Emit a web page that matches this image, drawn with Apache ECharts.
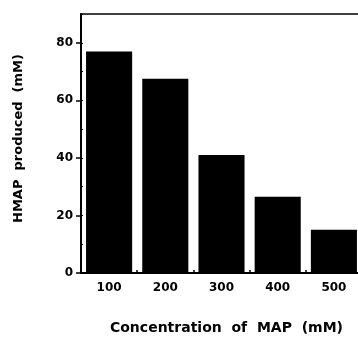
<!DOCTYPE html>
<html>
<head>
<meta charset="utf-8">
<script src="https://cdn.jsdelivr.net/npm/echarts@6/dist/echarts.min.js"></script>
<style>
  html, body { margin: 0; padding: 0; background: #fff; }
  #chart { width: 358px; height: 337px; }
</style>
</head>
<body>
<div id="chart"></div>
<script>
// concentration of MAP (mM)
const categories = ['100', '200', '300', '400', '500'];
// HMAP produced (mM)
const hmapValues = [77, 67.5, 41, 26.5, 15];

const FONT = '"DejaVu Sans", sans-serif';

const chart = echarts.init(document.getElementById('chart'));

const option = {
  backgroundColor: '#fff',
  animation: false,
  grid: {
    left: 81,
    top: 14,
    width: 281,
    bottom: 64,
    outerBoundsMode: 'none',
    show: true,
    borderColor: '#000',
    borderWidth: 1.5,
    backgroundColor: 'transparent'
  },
  xAxis: {
    type: 'category',
    data: categories,
    name: 'Concentration  of  MAP  (mM)',
    nameLocation: 'middle',
    nameGap: 48,
    nameTextStyle: { color: '#000', fontFamily: FONT, fontWeight: 'bold', fontSize: 14, padding: [0, 0, 0, 10] },
    axisLine: { lineStyle: { color: '#000', width: 2 } },
    axisTick: { show: true, inside: true, length: 3, lineStyle: { color: '#000', width: 1.5 } },
    axisLabel: { color: '#000', fontFamily: FONT, fontWeight: 'bold', fontSize: 12, margin: 9 },
    splitLine: { show: false }
  },
  yAxis: [
    {
      type: 'value',
      min: 0,
      max: 90,
      interval: 20,
      name: 'HMAP  produced  (mM)',
      nameLocation: 'middle',
      nameGap: 56,
      nameRotate: 90,
      nameTextStyle: { color: '#000', fontFamily: FONT, fontWeight: 'bold', fontSize: 13, padding: [0, 0, 0, 10] },
      axisLine: { show: true, lineStyle: { color: '#000', width: 2 } },
      axisTick: { show: true, length: 5, lineStyle: { color: '#000', width: 1.5 } },
      axisLabel: { color: '#000', fontFamily: FONT, fontWeight: 'bold', fontSize: 12, margin: 8, showMaxLabel: false },
      splitLine: { show: false }
    },
    {
      // small inner ticks every 10
      type: 'value',
      position: 'left',
      min: 0,
      max: 90,
      interval: 10,
      axisLine: { show: false },
      axisTick: { show: true, inside: true, length: 2, lineStyle: { color: '#000', width: 1 } },
      axisLabel: { show: false },
      splitLine: { show: false }
    }
  ],
  series: [
    {
      name: 'HMAP',
      type: 'bar',
      data: hmapValues,
      barCategoryGap: '18%',
      itemStyle: { color: '#000' }
    }
  ]
};

chart.setOption(option);
</script>
</body>
</html>
